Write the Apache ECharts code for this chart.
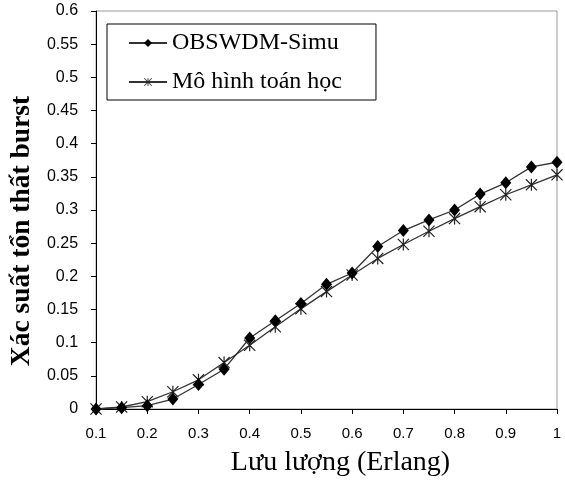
<!DOCTYPE html>
<html>
<head>
<meta charset="utf-8">
<script src="https://cdn.jsdelivr.net/npm/echarts@6/dist/echarts.min.js"></script>
<style>
  html, body { margin: 0; padding: 0; background: #fff; }
  #main { width: 565px; height: 482px; }
</style>
</head>
<body>
<div id="main"></div>
<script>
// lưu lượng (Erlang)
var loads = [0.1, 0.15, 0.2, 0.25, 0.3, 0.35, 0.4, 0.45, 0.5, 0.55, 0.6, 0.65, 0.7, 0.75, 0.8, 0.85, 0.9, 0.95, 1];
// OBSWDM-Simu
var simu = [0, 0.002, 0.005, 0.015, 0.037, 0.06, 0.107, 0.133, 0.159, 0.188, 0.205, 0.245, 0.269, 0.285, 0.300, 0.324, 0.341, 0.365, 0.372];
// Mô hình toán học
var model = [0, 0.003, 0.011, 0.026, 0.044, 0.07, 0.096, 0.124, 0.151, 0.177, 0.202, 0.227, 0.248, 0.268, 0.287, 0.305, 0.323, 0.338, 0.353];

var names = ['OBSWDM-Simu', 'Mô hình toán học'];

// dấu sao kiểu Excel
var star = 'path://M9,0 L11,0 L11,20 L9,20 Z M0,1.4 L1.4,0 L20,18.6 L18.6,20 Z M18.6,0 L20,1.4 L1.4,20 L0,18.6 Z';

function pairs(ys) {
  var out = [];
  for (var i = 0; i < loads.length; i++) out.push([loads[i], ys[i]]);
  return out;
}
function trim(v) { return String(+v.toFixed(2)); }

var serif = '"Liberation Serif", "DejaVu Serif", serif';
var sans = '"Liberation Sans", Arial, sans-serif';

var myChart = echarts.init(document.getElementById('main'));
var option = {
  backgroundColor: '#fff',
  animation: false,
  grid: {
    left: 96, right: 8, top: 11, bottom: 73,
    show: true, borderColor: '#999', borderWidth: 1
  },
  legend: {
    data: names,
    orient: 'vertical',
    left: 107, top: 24,
    padding: [5, 34, 4, 21],
    itemGap: 11,
    itemWidth: 38, itemHeight: 10,
    borderColor: '#000', borderWidth: 1,
    textStyle: { fontFamily: serif, fontSize: 24, color: '#000', lineHeight: 28 }
  },
  xAxis: {
    type: 'value',
    min: 0.1, max: 1, interval: 0.1,
    name: 'Lưu lượng (Erlang)',
    nameLocation: 'middle',
    nameGap: 40,
    nameTextStyle: { fontFamily: serif, fontSize: 28, color: '#000', padding: [0, 0, 0, 28] },
    axisLine: { lineStyle: { color: '#000', width: 1 } },
    axisTick: { inside: false, length: 5, lineStyle: { color: '#000' } },
    axisLabel: { margin: 17, fontFamily: sans, fontSize: 15, color: '#000', formatter: trim },
    splitLine: { show: false }
  },
  yAxis: {
    type: 'value',
    min: 0, max: 0.6, interval: 0.05,
    name: 'Xác suất tổn thất burst',
    nameLocation: 'middle',
    nameGap: 52,
    nameTextStyle: { fontFamily: serif, fontSize: 27.5, fontWeight: 'bold', color: '#000', padding: [0, 42, 0, 0] },
    axisLine: { show: true, lineStyle: { color: '#000', width: 1 } },
    axisTick: { show: true, inside: false, length: 5, lineStyle: { color: '#000' } },
    axisLabel: { margin: 18, fontFamily: sans, fontSize: 16, color: '#000', formatter: trim },
    splitLine: { show: false }
  },
  series: [
    {
      name: names[0],
      type: 'line',
      z: 3,
      data: pairs(simu),
      symbol: 'diamond',
      symbolSize: [11, 13],
      itemStyle: { color: '#000' },
      lineStyle: { color: '#333', width: 1.3 }
    },
    {
      name: names[1],
      type: 'line',
      z: 2,
      data: pairs(model),
      symbol: star,
      symbolSize: 12,
      itemStyle: { color: '#222' },
      lineStyle: { color: '#333', width: 1.3 }
    }
  ]
};
myChart.setOption(option);
</script>
</body>
</html>
